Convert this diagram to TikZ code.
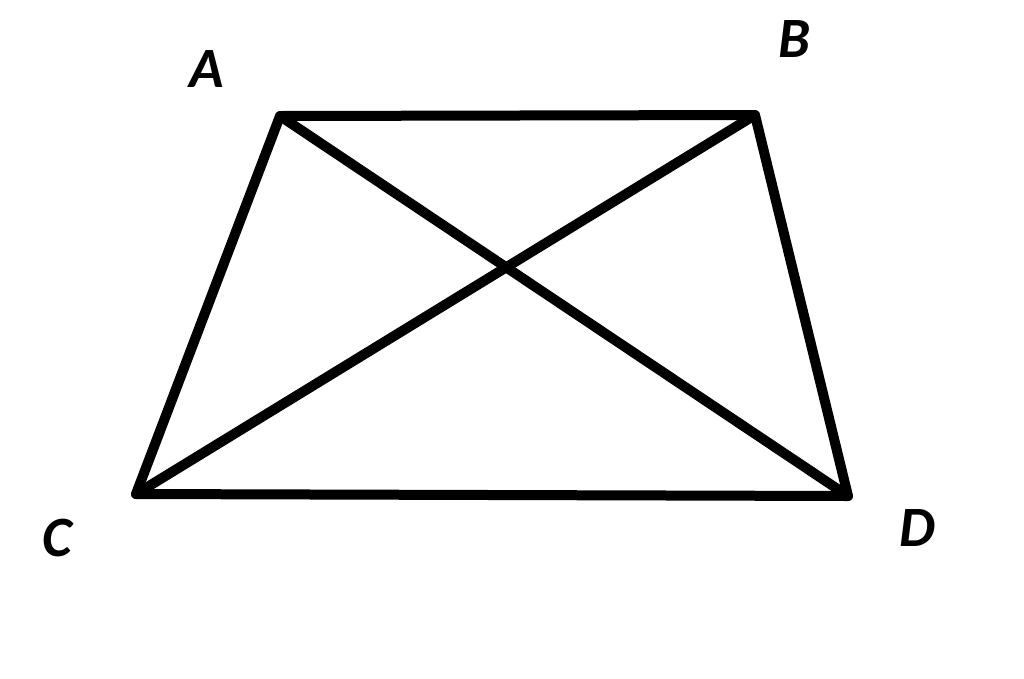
\documentclass[tikz,border=0pt]{standalone}
\usepackage{fontspec}
\setmainfont{Carlito}
\begin{document}
\begin{tikzpicture}[x=1pt,y=-1pt,
  edge/.style={line width=10pt,line cap=round,line join=round},
  lbl/.style={font=\fontsize{57}{60}\selectfont\bfseries\itshape,inner sep=0pt,anchor=center}]
\useasboundingbox (0,0) rectangle (1024,678);
\coordinate (A) at (280,116);
\coordinate (B) at (755,115);
\coordinate (C) at (136,494);
\coordinate (D) at (848,496);
\draw[edge] (A) -- (B) -- (D) -- (C) -- cycle;
\draw[edge] (A) -- (D);
\draw[edge] (B) -- (C);
\node[lbl] (la) at (207,69) {A};
\node[lbl] (lb) at (794,39) {B};
\node[lbl] (lc) at (57,538) {C};
\node[lbl] (ld) at (917,528) {D};
\end{tikzpicture}
\end{document}
